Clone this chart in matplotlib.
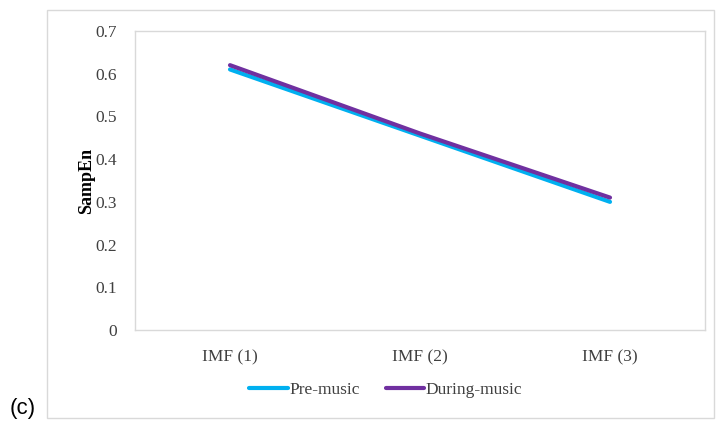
import matplotlib.pyplot as plt
from matplotlib.patches import Rectangle

# data
categories = ['IMF (1)', 'IMF (2)', 'IMF (3)']
pre_music = [0.61, 0.455, 0.30]
during_music = [0.62, 0.46, 0.31]
y_ticks = [0, 0.1, 0.2, 0.3, 0.4, 0.5, 0.6, 0.7]

plt.rcParams['font.family'] = ['Liberation Serif', 'DejaVu Serif']

W, H = 716, 423
fig = plt.figure(figsize=(W / 100, H / 100), dpi=100)

# outer chart frame
fig.patches.append(Rectangle((47 / W, 1 - 418 / H), (714 - 47) / W, (418 - 10) / H,
                             transform=fig.transFigure, fill=False,
                             edgecolor='#D9D9D9', linewidth=1.0))

ax = fig.add_axes([135 / W, 1 - 330 / H, (705 - 135) / W, (330 - 31) / H])
x = range(len(categories))
ax.plot(x, pre_music, color='#00B0F0', linewidth=3.0, solid_capstyle='round', label='Pre-music')
ax.plot(x, during_music, color='#7030A0', linewidth=3.0, solid_capstyle='round', label='During-music')

ax.set_xlim(-0.5, len(categories) - 0.5)
ax.set_ylim(0, 0.7)
ax.set_yticks(y_ticks)
ax.set_yticklabels(['0' if v == 0 else f'{v:.1f}' for v in y_ticks])
ax.set_xticks(list(x))
ax.set_xticklabels(categories)
ax.tick_params(length=0, labelsize=12.5, colors='#404040')
ax.tick_params(axis='x', pad=14)
ax.tick_params(axis='y', pad=13)
for s in ax.spines.values():
    s.set_color('#D9D9D9')
    s.set_linewidth(1.0)

ax.set_ylabel('SampEn', fontsize=13, fontweight='bold', labelpad=0)

ax.legend(loc='center', bbox_to_anchor=(0.44, -0.2), ncol=2, frameon=False,
          fontsize=12.5, handlelength=2.2, handletextpad=0.1, columnspacing=1.5,
          labelcolor='#404040')

fig.text(10 / W, 1 - 414 / H, '(c)', fontsize=16, family=['Liberation Sans', 'DejaVu Sans'],
         va='baseline')

fig.savefig('out.png', dpi=100)
